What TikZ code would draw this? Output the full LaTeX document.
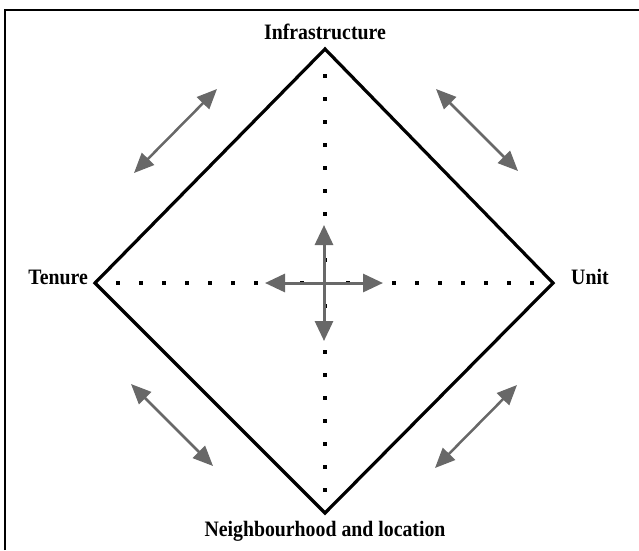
\documentclass[tikz,border=0pt]{standalone}
\usepackage{fontspec}
\setmainfont{Liberation Serif}
\newfontfamily\lblfont[FakeStretch=0.9]{Liberation Serif}
\usetikzlibrary{arrows.meta}
\definecolor{arrgray}{RGB}{104,104,104}
\begin{document}
\begin{tikzpicture}[x=1pt,y=-1pt,
  lbl/.style={font=\lblfont\fontsize{22}{26}\selectfont\bfseries, inner sep=0pt},
  dbl/.style={arrgray, line width=2.5pt, {Triangle[length=20pt,width=17pt]}-{Triangle[length=20pt,width=17pt]}},
  ctr/.style={arrgray, line width=3pt, -{Triangle[length=20pt,width=18pt]}},
  frame/.style={line width=2pt, black},
  diam/.style={line width=3.2pt, black, line join=miter}
]
\useasboundingbox (0,0) rectangle (639,550);
\draw[frame] (5,550) -- (5,10) -- (639,10);
% diamond vertices
\coordinate (T) at (325,49);
\coordinate (L) at (95,283);
\coordinate (R) at (553,283);
\coordinate (B) at (325,513);
% dotted axes
\foreach \k in {1,...,9} {
  \fill (323,{283-\k*23-2}) rectangle ++(4,4);
  \fill (323,{283+\k*23-2}) rectangle ++(4,4);
  \fill ({325-\k*23-2},281) rectangle ++(4,4);
  \fill ({325+\k*23-2},281) rectangle ++(4,4);
}
\draw[diam] (T) -- (R) -- (B) -- (L) -- cycle;
% labels
\node[lbl, anchor=base] (infra) at (325,39) {Infrastructure};
\node[lbl, anchor=base] (neigh) at (325,536) {Neighbourhood and location};
\node[lbl, anchor=base east] (tenure) at (88,284) {Tenure};
\node[lbl, anchor=base west] (unit) at (571,284) {Unit};
% diagonal double arrows
\coordinate (tl1) at (134,173); \coordinate (tl2) at (217,89);
\coordinate (tr1) at (436,89);  \coordinate (tr2) at (518,171);
\coordinate (bl1) at (131,384); \coordinate (bl2) at (213,466);
\coordinate (br1) at (435,468); \coordinate (br2) at (517,385);
\draw[dbl] (tl1) -- (tl2);
\draw[dbl] (tr1) -- (tr2);
\draw[dbl] (bl1) -- (bl2);
\draw[dbl] (br1) -- (br2);
% centre cross
\coordinate (C) at (324,283);
\coordinate (cu) at (324,225);
\coordinate (cd) at (324,341);
\coordinate (cl) at (265,283);
\coordinate (cr) at (383,283);
\draw[ctr] (C) -- (cu);
\draw[ctr] (C) -- (cd);
\draw[ctr] (C) -- (cl);
\draw[ctr] (C) -- (cr);
\end{tikzpicture}
\end{document}
